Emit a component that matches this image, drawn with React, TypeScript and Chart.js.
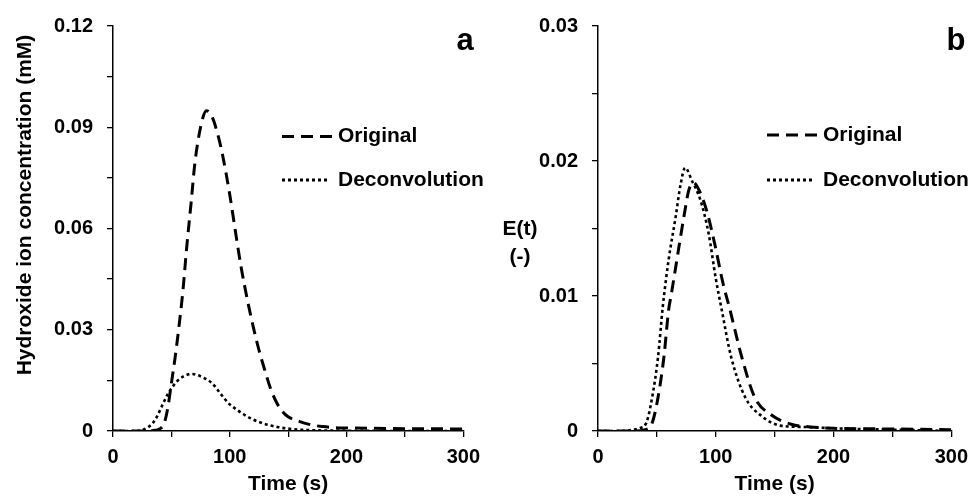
import React, { useEffect, useRef } from "react";
import { Chart, registerables } from "chart.js";

Chart.register(...registerables);

// ---------- Data ----------
// Panel a: hydroxide ion concentration (mM) vs time (s)
const timeOriginalA = [0, 10, 20, 30, 36, 40, 44, 47, 50, 53, 56, 60, 63, 67, 70, 75, 80, 85, 90, 94, 100, 106, 110, 115, 120, 125, 130, 135, 140, 145, 150, 160, 170, 180, 190, 200, 250, 300];
const valuesOriginalA = [0, 0, 0, 0, 0.0002, 0.0006, 0.0024, 0.007, 0.0141, 0.0213, 0.0295, 0.042, 0.054, 0.068, 0.079, 0.09, 0.0949, 0.093, 0.0875, 0.0815, 0.07, 0.0565, 0.048, 0.039, 0.031, 0.024, 0.018, 0.0125, 0.0085, 0.0058, 0.0042, 0.0028, 0.0018, 0.0013, 0.001, 0.0009, 0.0007, 0.0006];

const timeDeconvA = [0, 10, 20, 25, 30, 34, 38, 43, 47, 51, 55, 60, 65, 68, 72, 78, 85, 92, 99, 106, 113, 120, 128, 135, 142, 150, 165, 200, 250, 300];
const valuesDeconvA = [0, 0, 0, 0.0003, 0.0011, 0.0023, 0.0045, 0.0082, 0.011, 0.0131, 0.0148, 0.0161, 0.0168, 0.0169, 0.0166, 0.0157, 0.0141, 0.0111, 0.0082, 0.0063, 0.0047, 0.0034, 0.0023, 0.0016, 0.0011, 0.0007, 0.0003, 0.0001, 0, 0];

// Panel b: E(t) (-) vs time (s)
const timeOriginalB = [0, 10, 20, 30, 40, 46, 51, 56, 60, 62, 67, 73, 77, 81, 86, 92, 99, 106, 112, 122, 133, 147, 164, 180, 200, 250, 300];
const valuesOriginalB = [0, 0, 0, 0, 0.0001, 0.0006, 0.0025, 0.0055, 0.009, 0.01, 0.0127, 0.0159, 0.0178, 0.0184, 0.0178, 0.0164, 0.0139, 0.011, 0.009, 0.0055, 0.0025, 0.0012, 0.0005, 0.0003, 0.0002, 0.00015, 0.0001];

const timeDeconvB = [0, 10, 20, 30, 35, 41, 46, 51, 55, 60, 66, 70, 74, 80, 87, 94, 100, 105, 113, 125, 139, 155, 175, 200, 250, 300];
const valuesDeconvB = [0, 0, 0, 0.0001, 0.0002, 0.0006, 0.0025, 0.0055, 0.0092, 0.0127, 0.0159, 0.0182, 0.0195, 0.0185, 0.0171, 0.0146, 0.0113, 0.009, 0.0055, 0.0025, 0.0011, 0.0004, 0.0003, 0.0002, 0.0001, 0];

// Axis ticks
const xMajorTicks = [0, 100, 200, 300];
const xTickLabels = ["0", "100", "200", "300"];
const xMinorTicks = [50, 150, 250];

const yMajorTicksA = [0, 0.03, 0.06, 0.09, 0.12];
const yTickLabelsA = ["0", "0.03", "0.06", "0.09", "0.12"];
const yMinorTicksA = [0.015, 0.045, 0.075, 0.105];

const yMajorTicksB = [0, 0.01, 0.02, 0.03];
const yTickLabelsB = ["0", "0.01", "0.02", "0.03"];
const yMinorTicksB = [0.005, 0.015, 0.025];

const seriesNames = ["Original", "Deconvolution"];
const panelLetters = ["a", "b"];
const yTitleA = "Hydroxide ion concentration (mM)";
const yTitleB = ["E(t)", "(-)"];
const xTitle = "Time (s)";

// ---------- Helpers ----------
const FONT = '"Liberation Sans", Arial, Helvetica, sans-serif';
const DASH_ORIGINAL = [12, 7];
const DASH_DECONV = [3, 3];

function toPoints(t: number[], v: number[]) {
  return t.map((x, i) => ({ x, y: v[i] }));
}

function labelFor(value: number, majors: number[], labels: string[]) {
  for (let i = 0; i < majors.length; i++) {
    if (Math.abs(value - majors[i]) < 1e-9) return labels[i];
  }
  return "";
}

type PanelSpec = {
  key: string;
  left: number;
  yMax: number;
  yMajors: number[];
  yLabels: string[];
  yMinors: number[];
  original: { x: number; y: number }[];
  deconv: { x: number; y: number }[];
  yAxisWidth: number;
  rightPad: number;
  annotate: (ctx: CanvasRenderingContext2D) => void;
};

function drawLegend(ctx: CanvasRenderingContext2D, lineX1: number, textX: number, y1: number, y2: number) {
  ctx.save();
  ctx.strokeStyle = "#000";
  ctx.fillStyle = "#000";
  ctx.lineWidth = 3;
  ctx.setLineDash(DASH_ORIGINAL);
  ctx.beginPath();
  ctx.moveTo(lineX1, y1);
  ctx.lineTo(textX - 4, y1);
  ctx.stroke();
  ctx.setLineDash(DASH_DECONV);
  ctx.beginPath();
  ctx.moveTo(lineX1, y2);
  ctx.lineTo(textX - 8, y2);
  ctx.stroke();
  ctx.setLineDash([]);
  ctx.font = `bold 21px ${FONT}`;
  ctx.textAlign = "left";
  ctx.textBaseline = "middle";
  ctx.fillText(seriesNames[0], textX, y1);
  ctx.fillText(seriesNames[1], textX, y2);
  ctx.restore();
}

const panels: PanelSpec[] = [
  {
    key: "a",
    left: 0,
    yMax: 0.12,
    yMajors: yMajorTicksA,
    yLabels: yTickLabelsA,
    yMinors: yMinorTicksA,
    original: toPoints(timeOriginalA, valuesOriginalA),
    deconv: toPoints(timeDeconvA, valuesDeconvA),
    yAxisWidth: 113,
    rightPad: 21,
    annotate: (ctx) => {
      ctx.save();
      ctx.fillStyle = "#000";
      ctx.font = `bold 21px ${FONT}`;
      ctx.textAlign = "center";
      ctx.textBaseline = "middle";
      ctx.translate(25, 205);
      ctx.rotate(-Math.PI / 2);
      ctx.fillText(yTitleA, 0, 0);
      ctx.restore();
      ctx.save();
      ctx.fillStyle = "#000";
      ctx.font = `bold 31px ${FONT}`;
      ctx.textAlign = "center";
      ctx.textBaseline = "alphabetic";
      ctx.fillText(panelLetters[0], 465, 50);
      ctx.restore();
      drawLegend(ctx, 282, 338, 136.5, 180);
    },
  },
  {
    key: "b",
    left: 488,
    yMax: 0.03,
    yMajors: yMajorTicksB,
    yLabels: yTickLabelsB,
    yMinors: yMinorTicksB,
    original: toPoints(timeOriginalB, valuesOriginalB),
    deconv: toPoints(timeDeconvB, valuesDeconvB),
    yAxisWidth: 110,
    rightPad: 20,
    annotate: (ctx) => {
      ctx.save();
      ctx.fillStyle = "#000";
      ctx.font = `bold 21px ${FONT}`;
      ctx.textAlign = "center";
      ctx.textBaseline = "middle";
      ctx.fillText(yTitleB[0], 32, 229);
      ctx.fillText(yTitleB[1], 32, 257);
      ctx.font = `bold 31px ${FONT}`;
      ctx.textBaseline = "alphabetic";
      ctx.fillText(panelLetters[1], 468, 50);
      ctx.restore();
      drawLegend(ctx, 279, 335, 135, 180);
    },
  },
];

function Panel({ spec }: { spec: PanelSpec }) {
  const ref = useRef<HTMLCanvasElement | null>(null);
  useEffect(() => {
    if (!ref.current) return;
    const tickFont = { family: FONT, size: 20, weight: "bold" as const };
    const titleFont = { family: FONT, size: 21, weight: "bold" as const };
    const chart = new Chart(ref.current, {
      type: "line",
      data: {
        datasets: [
          {
            label: seriesNames[0],
            data: spec.original,
            borderColor: "#000",
            borderWidth: 3,
            borderDash: DASH_ORIGINAL,
            pointRadius: 0,
            fill: false,
            cubicInterpolationMode: "monotone",
          },
          {
            label: seriesNames[1],
            data: spec.deconv,
            borderColor: "#000",
            borderWidth: 2.6,
            borderDash: DASH_DECONV,
            pointRadius: 0,
            fill: false,
            cubicInterpolationMode: "monotone",
          },
        ],
      },
      options: {
        responsive: false,
        maintainAspectRatio: false,
        animation: false,
        events: [],
        layout: { padding: { top: 26, right: spec.rightPad, bottom: 0, left: 0 } },
        plugins: {
          legend: { display: false },
          tooltip: { enabled: false },
          title: { display: false },
        },
        scales: {
          x: {
            type: "linear",
            min: 0,
            max: 300,
            afterBuildTicks: (s: any) => {
              s.ticks = [...xMajorTicks, ...xMinorTicks].sort((a, b) => a - b).map((v) => ({ value: v }));
            },
            afterFit: (s: any) => {
              s.height = 66;
            },
            ticks: {
              autoSkip: false,
              maxRotation: 0,
              color: "#000",
              font: tickFont,
              padding: 8,
              callback: (v: any) => labelFor(Number(v), xMajorTicks, xTickLabels),
            },
            grid: {
              display: true,
              drawOnChartArea: false,
              drawTicks: true,
              tickLength: 6,
              color: "#000",
              lineWidth: 1.3,
            },
            border: { display: true, color: "#000", width: 1.5 },
            title: {
              display: true,
              text: xTitle,
              color: "#000",
              font: titleFont,
              padding: { top: 0, bottom: 0 },
            },
          },
          y: {
            type: "linear",
            min: 0,
            max: spec.yMax,
            afterBuildTicks: (s: any) => {
              s.ticks = [...spec.yMajors, ...spec.yMinors].sort((a, b) => a - b).map((v) => ({ value: v }));
            },
            afterFit: (s: any) => {
              s.width = spec.yAxisWidth;
            },
            ticks: {
              autoSkip: false,
              color: "#000",
              font: tickFont,
              padding: 14,
              callback: (v: any) => labelFor(Number(v), spec.yMajors, spec.yLabels),
            },
            grid: {
              display: true,
              drawOnChartArea: false,
              drawTicks: true,
              tickLength: 6,
              color: "#000",
              lineWidth: 1.3,
            },
            border: { display: true, color: "#000", width: 1.5 },
            title: { display: false },
          },
        },
      },
      plugins: [
        {
          id: "annotations-" + spec.key,
          afterDraw: (c: any) => {
            spec.annotate(c.ctx);
          },
        },
      ],
    } as any);
    return () => {
      chart.destroy();
    };
  }, [spec]);
  return (
    <canvas
      ref={ref}
      width={488}
      height={497}
      style={{ position: "absolute", left: spec.left, top: 0, width: 488, height: 497 }}
    />
  );
}

export default function App() {
  return (
    <div style={{ position: "fixed", left: 0, top: 0, width: 976, height: 497, background: "#fff" }}>
      {panels.map((p) => (
        <Panel key={p.key} spec={p} />
      ))}
    </div>
  );
}
